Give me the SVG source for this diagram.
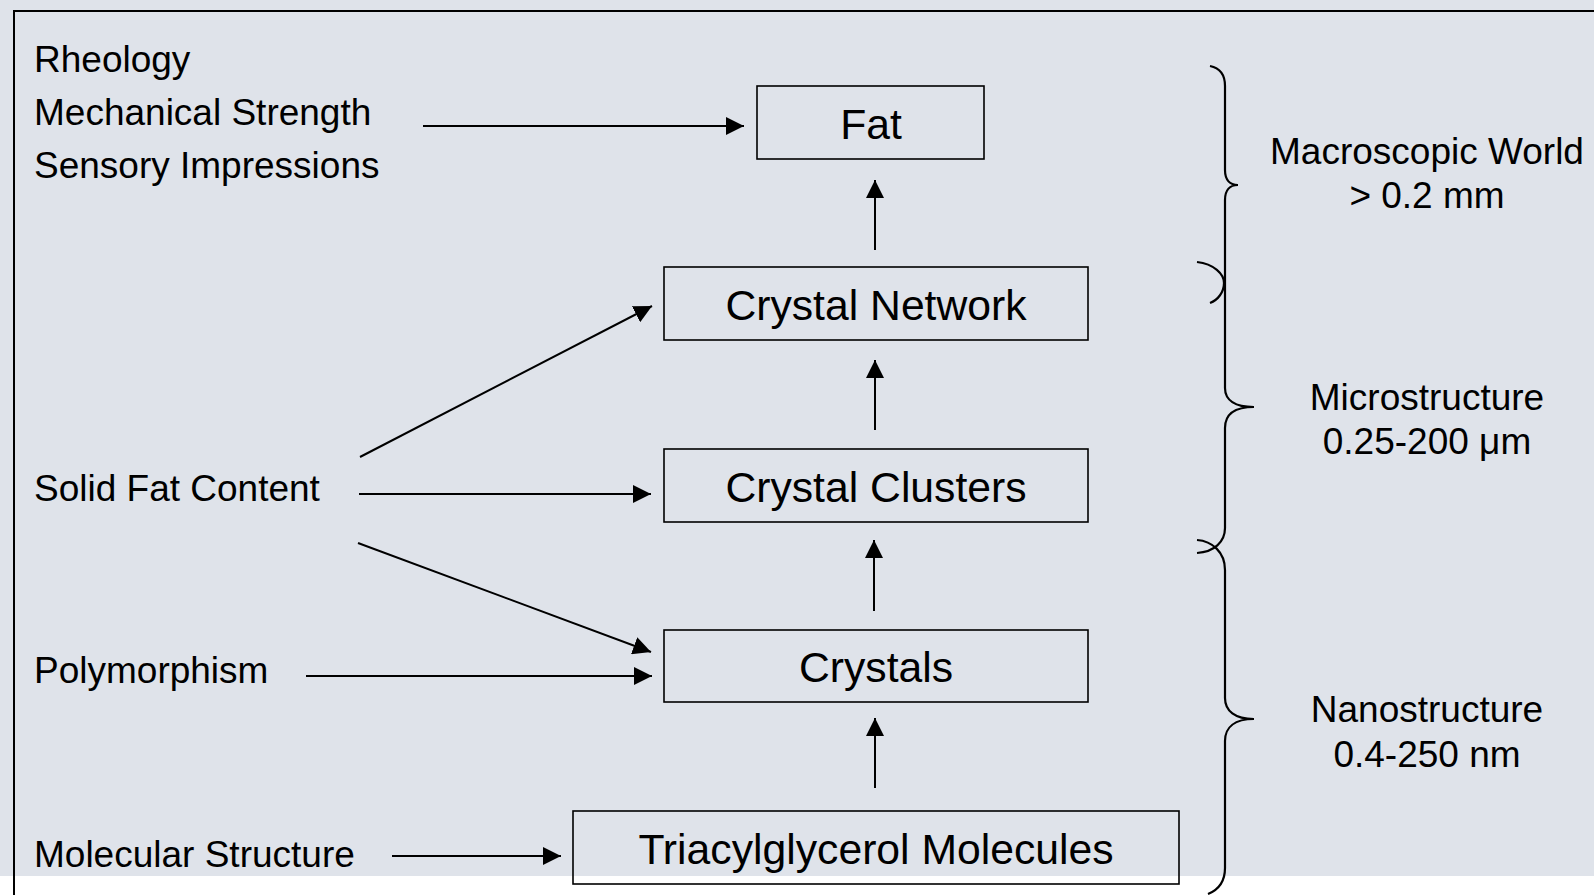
<svg xmlns="http://www.w3.org/2000/svg" width="1594" height="895" viewBox="0 0 1594 895">
<style>
.lbl{font-family:"Liberation Sans",Arial,sans-serif;font-size:37px;fill:#000}
.ntx{font-family:"Liberation Sans",Arial,sans-serif;font-size:42.7px;fill:#000;text-anchor:middle}
.rt{font-family:"Liberation Sans",Arial,sans-serif;font-size:37px;fill:#000;text-anchor:middle}
.box{fill:none;stroke:#000;stroke-width:1.6}
.conn line{stroke:#000;stroke-width:2}
.brace{fill:none;stroke:#000;stroke-width:2.2}
</style>
<defs>
<marker id="ah" markerUnits="userSpaceOnUse" markerWidth="18" markerHeight="18" viewBox="0 0 16 16" refX="16" refY="8" orient="auto">
<path d="M0,0 L16,8 L0,16 Z" fill="#000"/>
</marker>
</defs>
<rect x="0" y="0" width="1594" height="876" fill="#dfe3ea"/>
<rect x="0" y="876" width="1594" height="19" fill="#fff"/>
<path d="M14,895 V11 H1594" fill="none" stroke="#000" stroke-width="2"/>

<g id="labels-left">
<text class="lbl" x="34" y="72">Rheology</text>
<text class="lbl" x="34" y="125">Mechanical Strength</text>
<text class="lbl" x="34" y="178">Sensory Impressions</text>
<text class="lbl" x="34" y="501">Solid Fat Content</text>
<text class="lbl" x="34" y="683">Polymorphism</text>
<text class="lbl" x="34" y="867">Molecular Structure</text>
</g>

<g id="node-fat">
<rect class="box" x="757" y="86" width="227" height="73"/>
<text class="ntx" x="871" y="138.5">Fat</text>
</g>
<g id="node-network">
<rect class="box" x="664" y="267" width="424" height="73"/>
<text class="ntx" x="876" y="319.5">Crystal Network</text>
</g>
<g id="node-clusters">
<rect class="box" x="664" y="449" width="424" height="73"/>
<text class="ntx" x="876" y="501.5">Crystal Clusters</text>
</g>
<g id="node-crystals">
<rect class="box" x="664" y="630" width="424" height="72"/>
<text class="ntx" x="876" y="682">Crystals</text>
</g>
<g id="node-tag">
<rect class="box" x="573" y="811" width="606" height="73"/>
<text class="ntx" x="876" y="864">Triacylglycerol Molecules</text>
</g>

<g id="connectors" class="conn">
<line x1="423" y1="126" x2="744" y2="126" marker-end="url(#ah)"/>
<line x1="875" y1="250" x2="875" y2="180" marker-end="url(#ah)"/>
<line x1="875" y1="430" x2="875" y2="360" marker-end="url(#ah)"/>
<line x1="874" y1="611" x2="874" y2="540" marker-end="url(#ah)"/>
<line x1="875" y1="788" x2="875" y2="718" marker-end="url(#ah)"/>
<line x1="360" y1="457" x2="652" y2="306" marker-end="url(#ah)"/>
<line x1="359" y1="494" x2="651" y2="494" marker-end="url(#ah)"/>
<line x1="358" y1="543" x2="651" y2="652" marker-end="url(#ah)"/>
<line x1="306" y1="676" x2="652" y2="676" marker-end="url(#ah)"/>
<line x1="392" y1="856" x2="561" y2="856" marker-end="url(#ah)"/>
</g>

<g id="braces">
<path class="brace" d="M1210,66 C1220,68 1225,75 1225,86 V170 C1225,180 1230,185 1238,185 C1230,185 1225,190 1225,200 V283"/>
<path class="brace" d="M1197,262 C1214,264 1224,274 1224,283 C1224,292 1218,300 1210,303"/>
<path class="brace" d="M1225,283 V388 C1225,400 1235,407 1254,407 C1235,407 1225,414 1225,428 V528 C1225,542 1214,552 1197,553"/>
<path class="brace" d="M1197,540 C1212,541 1225,552 1225,570 V698 C1225,711 1235,719 1254,719 C1235,719 1225,727 1225,741 V868 C1225,882 1218,890 1208,894"/>
</g>

<g id="labels-right">
<text class="rt" x="1427" y="164">Macroscopic World</text>
<text class="rt" x="1427" y="208">&gt; 0.2 mm</text>
<text class="rt" x="1427" y="410">Microstructure</text>
<text class="rt" x="1427" y="454">0.25-200 μm</text>
<text class="rt" x="1427" y="722">Nanostructure</text>
<text class="rt" x="1427" y="767">0.4-250 nm</text>
</g>
</svg>
